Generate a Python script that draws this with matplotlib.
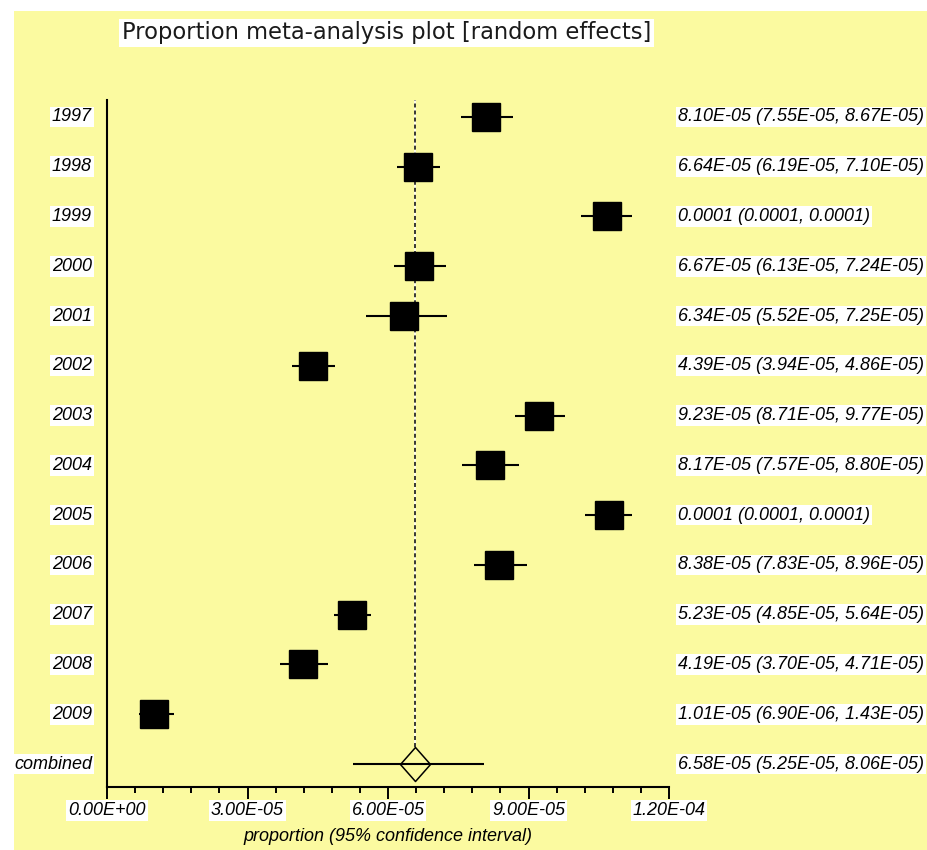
import matplotlib
matplotlib.use("Agg")
import matplotlib.pyplot as plt
from matplotlib.patches import Rectangle
from matplotlib.path import Path
import numpy as np

# Study years and the pooled row
labels = ["1997", "1998", "1999", "2000", "2001", "2002", "2003",
          "2004", "2005", "2006", "2007", "2008", "2009"]
estimates = [8.10e-5, 6.64e-5, 1.067e-4, 6.67e-5, 6.34e-5, 4.39e-5, 9.23e-5,
             8.17e-5, 1.071e-4, 8.38e-5, 5.23e-5, 4.19e-5, 1.01e-5]
lower = [7.55e-5, 6.19e-5, 1.013e-4, 6.13e-5, 5.52e-5, 3.94e-5, 8.71e-5,
         7.57e-5, 1.021e-4, 7.83e-5, 4.85e-5, 3.70e-5, 6.90e-6]
upper = [8.67e-5, 7.10e-5, 1.122e-4, 7.24e-5, 7.25e-5, 4.86e-5, 9.77e-5,
         8.80e-5, 1.121e-4, 8.96e-5, 5.64e-5, 4.71e-5, 1.43e-5]

pooled_label = "combined"
pooled_est = 6.58e-5
pooled_lo = 5.25e-5
pooled_hi = 8.06e-5

xticks = [0.0, 3.0e-5, 6.0e-5, 9.0e-5, 1.2e-4]

BG = "#FBFAA0"
FONT = "Liberation Sans"
FS = 13


def fmt_value(v):
    return f"{v:.4f}" if v >= 1e-4 else f"{v:.2E}"


def fmt_row(e, lo, hi):
    return f"{fmt_value(e)} ({fmt_value(lo)}, {fmt_value(hi)})"


W, H = 928, 850
fig = plt.figure(figsize=(W / 100, H / 100), dpi=100, facecolor="white")

# pale yellow panel behind everything
fig.patches.append(Rectangle((14 / W, 0), 1 - 14 / W, (H - 11) / H,
                             transform=fig.transFigure, facecolor=BG,
                             edgecolor="none", zorder=-10))

ax = fig.add_axes([107 / W, 63 / H, 562 / W, 687 / H])
ax.set_facecolor("none")

n = len(labels)
ypos = np.arange(n, 0, -1)          # 1997 at top ... 2009 at 1, pooled at 0
ax.set_xlim(0, 1.2e-4)
ax.set_ylim(-0.462, n + 0.34)

white_box = dict(facecolor="white", edgecolor="none", boxstyle="square,pad=0.1")

# reference line at the pooled estimate (dashes over white gaps)
ref_top = n + 0.34
ref_bot = 0.34
ax.plot([pooled_est, pooled_est], [ref_bot, ref_top], color="white",
        lw=1.1, zorder=1, solid_capstyle="butt")
ax.plot([pooled_est, pooled_est], [ref_bot, ref_top], color="black",
        lw=1.1, linestyle=(0, (2.6, 2.0)), zorder=1.5)

# study intervals and squares
for y, e, lo, hi in zip(ypos, estimates, lower, upper):
    ax.plot([lo, hi], [y, y], color="black", lw=1.5, zorder=3,
            solid_capstyle="butt")
ax.plot(estimates, ypos, linestyle="none", marker="s", markersize=19.5,
        color="black", zorder=4)

# pooled interval and hollow diamond
diamond = Path([(0, 17), (15, 0), (0, -17), (-15, 0), (0, 17)],
               [Path.MOVETO, Path.LINETO, Path.LINETO, Path.LINETO, Path.CLOSEPOLY])
ax.plot([pooled_est], [0], marker=diamond, markersize=24.5,
        markerfacecolor=BG, markeredgecolor="black", markeredgewidth=1.1,
        linestyle="none", zorder=2)
ax.plot([pooled_lo, pooled_hi], [0, 0], color="black", lw=1.5, zorder=3,
        solid_capstyle="butt")

# row labels on the left and value labels on the right
row_names = labels + [pooled_label]
row_y = list(ypos) + [0]
row_text = [fmt_row(e, lo, hi) for e, lo, hi in zip(estimates, lower, upper)]
row_text.append(fmt_row(pooled_est, pooled_lo, pooled_hi))
for name, y, txt in zip(row_names, row_y, row_text):
    ax.annotate(name, xy=(0, y), xycoords=("axes fraction", "data"),
                xytext=(-15, 0), textcoords="offset pixels",
                ha="right", va="center", fontsize=FS, style="italic",
                family=FONT, bbox=white_box, annotation_clip=False)
    ax.annotate(txt, xy=(1, y), xycoords=("axes fraction", "data"),
                xytext=(9, 0), textcoords="offset pixels",
                ha="left", va="center", fontsize=FS, style="italic",
                family=FONT, bbox=white_box, annotation_clip=False)

# axes styling
for side in ("top", "right"):
    ax.spines[side].set_visible(False)
for side in ("left", "bottom"):
    ax.spines[side].set_linewidth(1.5)
ax.set_yticks([])
ax.set_xticks(xticks, labels=[f"{t:.2E}" for t in xticks])
ax.set_xticks(np.arange(0, 1.2e-4 + 1e-12, 6e-6), minor=True)
ax.tick_params(axis="x", which="major", length=8.6, width=1.4, pad=2,
               direction="out")
ax.tick_params(axis="x", which="minor", length=4.3, width=1.4, direction="out")
for lab in ax.get_xticklabels():
    lab.set_family(FONT)
    lab.set_style("italic")
    lab.set_fontsize(FS)
    lab.set_bbox(white_box)

ax.set_xlabel("proportion (95% confidence interval)", fontsize=FS,
              style="italic", family=FONT, labelpad=7)

fig.text(122 / W, 1 - 33 / H, "Proportion meta-analysis plot [random effects]",
         ha="left", va="center", fontsize=16.3, family="DejaVu Sans",
         color="#1a1a1a", bbox=dict(facecolor="white", edgecolor="none",
                                    boxstyle="square,pad=0.12"))

fig.savefig("out.png", dpi=100, facecolor=fig.get_facecolor())
